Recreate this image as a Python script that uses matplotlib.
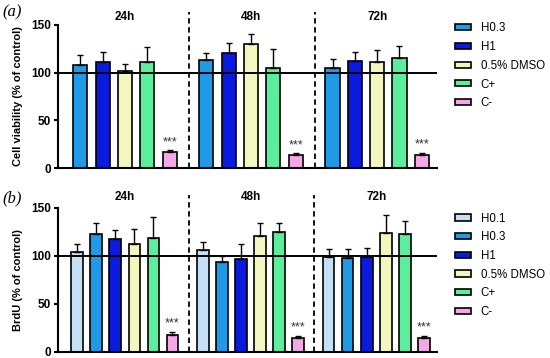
import matplotlib
matplotlib.use("Agg")
import matplotlib.pyplot as plt
import numpy as np
from matplotlib.patches import Patch

plt.rcParams['font.family'] = ['Liberation Sans', 'DejaVu Sans']

times = ['24h', '48h', '72h']

# panel (a): cell viability
labels_a = ['H0.3', 'H1', '0.5% DMSO', 'C+', 'C-']
colors_a = ['#1e9ae6', '#0a1adf', '#f4f6bf', '#5bef9d', '#f4a8e6']
via_mean = [[108, 111, 102, 111, 16.5],
            [113, 121, 130, 105, 14],
            [105, 112, 111, 115, 14]]
via_top = [[119, 122, 109, 127, 19],
           [121, 131, 141, 125, 15.5],
           [114, 122, 124, 128, 16]]

# panel (b): BrdU
labels_b = ['H0.1', 'H0.3', 'H1', '0.5% DMSO', 'C+', 'C-']
colors_b = ['#c4e0f6', '#1e9ae6', '#0a1adf', '#f4f6bf', '#5bef9d', '#f4a8e6']
brdu_mean = [[104.5, 123, 118, 112, 118.5, 17.5],
             [106, 93.5, 97, 120.5, 124.5, 14.5],
             [99, 98, 98.5, 124, 123, 14.5]]
brdu_top = [[112.5, 134, 127, 128, 141, 21],
            [114.5, 100, 113, 134, 134, 17],
            [107, 107, 108, 142.5, 136, 17]]

fig = plt.figure(figsize=(5.5, 3.58), dpi=100)


def panel(ax, labels, colors, means, tops, gstep, width, label_y, ylabel, leg_y):
    n = len(labels)
    for g in range(3):
        x = g * gstep + np.arange(n)
        m = np.array(means[g])
        e = np.array(tops[g]) - m
        ax.bar(x, m, width=width, color=colors, edgecolor='black', linewidth=1.2, zorder=2)
        ax.errorbar(x, m, yerr=[np.zeros(n), e], fmt='none', ecolor='black',
                    elinewidth=1.0, capsize=2.5, capthick=1.0, zorder=3)
        ax.text(x[-1], tops[g][-1] + 2, '***', ha='center', va='bottom',
                fontsize=9, color='#333333')
        ax.text(x.mean(), label_y, times[g], ha='center', va='bottom',
                fontsize=8.5, fontweight='bold', clip_on=False)
        if g < 2:
            xd = x[-1] + (gstep - n + 1) / 2 + 0.05
            ax.axvline(xd, ymin=0, ymax=1.09, color='black', linestyle=(0, (3, 2)),
                       linewidth=1.3, clip_on=False, zorder=1)
    ax.axhline(100, color='black', linewidth=1.4, zorder=4)
    ax.set_xlim(-1, 2 * gstep + n - 1 + 0.68)
    ax.set_ylim(0, 150)
    ax.set_yticks([0, 50, 100, 150])
    ax.set_xticks([])
    for s in ['top', 'right']:
        ax.spines[s].set_visible(False)
    ax.spines['left'].set_linewidth(1.5)
    ax.spines['bottom'].set_linewidth(1.5)
    ax.tick_params(axis='y', width=1.5, length=3, labelsize=8.5, pad=2)
    for t in ax.get_yticklabels():
        t.set_fontweight('bold')
    ax.set_ylabel(ylabel, fontsize=8, fontweight='bold', labelpad=6)
    handles = [Patch(facecolor=c, edgecolor='black', linewidth=1.2) for c in colors]
    ax.legend(handles, labels, loc='upper left', bbox_to_anchor=(1.035, leg_y),
              frameon=False, fontsize=8.3, handlelength=1.4, handleheight=0.45,
              handletextpad=0.85, labelspacing=0.58, borderaxespad=0)


ax1 = fig.add_axes([0.1055, 0.5307, 0.689, 0.3995])
panel(ax1, labels_a, colors_a, via_mean, via_top, 5.65, 0.63, 152,
      'Cell viability (% of control)', 1.05)

ax2 = fig.add_axes([0.1055, 0.0168, 0.689, 0.4022])
panel(ax2, labels_b, colors_b, brdu_mean, brdu_top, 6.6, 0.6, 155,
      'BrdU (% of control)', 1.0)

fig.text(0.005, 0.965, '(a)', fontsize=12, style='italic', family='Liberation Serif', va='center')
fig.text(0.005, 0.445, '(b)', fontsize=12, style='italic', family='Liberation Serif', va='center')

fig.savefig('out.png', dpi=100)
